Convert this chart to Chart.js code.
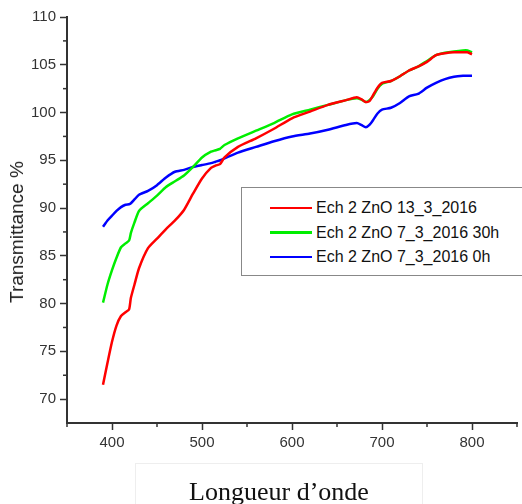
<!DOCTYPE html>
<html>
<head>
<meta charset="utf-8">
<script src="https://cdn.jsdelivr.net/npm/chart.js@4"></script>
<style>
  body { margin: 0; background: #fff; }
  #wrap { position: relative; width: 522px; height: 504px; overflow: hidden; }
  #c { position: absolute; left: 0; top: 0; }
  #ytitle {
    position: absolute; left: 17px; top: 232px;
    transform: translate(-50%, -50%) rotate(-90deg);
    font: 19px "Liberation Sans", Arial, sans-serif; color: #222; white-space: nowrap;
  }
  #legend {
    position: absolute; left: 241px; top: 187px; width: 300px; height: 89px;
    border: 1px solid #888; box-sizing: border-box; background: #fff;
  }
  .row { position: absolute; left: 28px; height: 20px; display: flex; align-items: center;
    font: 16px "Liberation Sans", Arial, sans-serif; color: #111; white-space: nowrap; }
  .row i { display: inline-block; width: 42px; height: 2.5px; margin-right: 4px; }
  #xbox {
    position: absolute; left: 135px; top: 463px; width: 288px; height: 60px;
    border: 1px solid #eee; box-sizing: border-box;
  }
  #xtitle {
    position: absolute; left: 0; width: 100%; top: 13px; text-align: center;
    font: 26px "Liberation Serif", "Times New Roman", serif; color: #111; white-space: nowrap;
  }
</style>
</head>
<body>
<div id="wrap">
  <canvas id="c" width="522" height="504"></canvas>
  <div id="ytitle">Transmittance %</div>
  <div id="xbox"><div id="xtitle">Longueur d’onde</div></div>
  <div id="legend"></div>
</div>
<script>
// longueur d'onde (nm)
const wavelengths = [390, 395, 400, 405, 410, 415, 419, 421, 425, 430, 440, 450, 460, 470, 480, 490, 500,
  510, 515, 520, 525, 540, 560, 580, 600, 620, 640, 660, 672, 677, 682, 686, 690, 695, 700,
  710, 720, 730, 740, 750, 760, 770, 780, 790, 795, 800];

const seriesNames = ['Ech 2 ZnO 13_3_2016', 'Ech 2 ZnO 7_3_2016 30h', 'Ech 2 ZnO 7_3_2016 0h'];
const seriesColors = ['#ff0000', '#00ee00', '#0000ff'];

const red = [71.5, 73.8, 76.0, 77.7, 78.7, 79.1, 79.4, 80.6, 82.0, 83.7, 85.8, 86.8, 87.8, 88.7, 89.8, 91.5, 93.1,
  94.2, 94.45, 94.6, 95.3, 96.4, 97.3, 98.3, 99.4, 100.1, 100.8, 101.3, 101.6, 101.4, 101.1, 101.2, 101.8, 102.6, 103.1,
  103.3, 103.8, 104.4, 104.8, 105.3, 106.0, 106.2, 106.3, 106.3, 106.3, 106.1];

const green = [80.1, 82.0, 83.5, 84.8, 85.9, 86.3, 86.6, 87.4, 88.5, 89.7, 90.5, 91.3, 92.2, 92.8, 93.4, 94.3, 95.3,
  95.9, 96.05, 96.2, 96.6, 97.3, 98.1, 98.9, 99.8, 100.3, 100.8, 101.3, 101.5, 101.35, 101.1, 101.3, 101.7, 102.5, 103.0,
  103.3, 103.8, 104.4, 104.8, 105.4, 106.0, 106.25, 106.4, 106.5, 106.5, 106.3];

const blue = [88.05, 88.7, 89.2, 89.7, 90.1, 90.35, 90.4, 90.5, 90.9, 91.4, 91.8, 92.4, 93.2, 93.8, 94.0, 94.3, 94.5,
  94.7, 94.85, 95.0, 95.2, 95.8, 96.4, 97.0, 97.5, 97.8, 98.2, 98.7, 98.9, 98.7, 98.45, 98.7, 99.2, 99.9, 100.3,
  100.5, 101.0, 101.7, 101.95, 102.6, 103.1, 103.5, 103.75, 103.85, 103.85, 103.85];

// graduations
const xMajorTicks = [400, 500, 600, 700, 800];
const xMinorTicks = [350, 450, 550, 650, 750, 850];
const yMajorTicks = [70, 75, 80, 85, 90, 95, 100, 105, 110];
const yMinorTicks = [72.5, 77.5, 82.5, 87.5, 92.5, 97.5, 102.5, 107.5];

const toPoints = (ys) => ys.map((y, i) => ({ x: wavelengths[i], y }));
const tickFont = { family: '"Liberation Sans Narrow", "Arial Narrow", "Liberation Sans", sans-serif', size: 15 };

// légende html
const legendEl = document.getElementById('legend');
seriesNames.forEach((name, i) => {
  const row = document.createElement('div');
  row.className = 'row';
  row.style.top = (10 + i * 24.5) + 'px';
  row.innerHTML = `<i style="background:${seriesColors[i]}"></i>${name}`;
  legendEl.appendChild(row);
});

// petites graduations
const minorTicks = {
  id: 'minorTicks',
  afterDraw(chart) {
    const { ctx, scales: { x, y } } = chart;
    ctx.save();
    ctx.strokeStyle = '#333';
    ctx.lineWidth = 1.5;
    xMinorTicks.forEach(v => {
      const px = x.getPixelForValue(v);
      ctx.beginPath(); ctx.moveTo(px, x.top); ctx.lineTo(px, x.top + 4); ctx.stroke();
    });
    yMinorTicks.forEach(v => {
      const py = y.getPixelForValue(v);
      ctx.beginPath(); ctx.moveTo(y.right, py); ctx.lineTo(y.right - 4, py); ctx.stroke();
    });
    ctx.restore();
  }
};

new Chart(document.getElementById('c'), {
  type: 'line',
  data: {
    datasets: [red, green, blue].map((ys, i) => ({
      label: seriesNames[i],
      data: toPoints(ys),
      borderColor: seriesColors[i],
      borderWidth: 2.5,
      pointRadius: 0,
      tension: 0.2,
      fill: false
    }))
  },
  options: {
    responsive: false,
    animation: false,
    layout: { padding: { left: 0, top: 17, right: 5, bottom: 0 } },
    plugins: { legend: { display: false }, tooltip: { enabled: false } },
    scales: {
      x: {
        type: 'linear', min: 350, max: 850,
        afterBuildTicks: (s) => { s.ticks = xMajorTicks.map(v => ({ value: v })); },
        afterFit: (s) => { s.height = 81; },
        grid: { drawOnChartArea: false, tickLength: 7, tickColor: '#333', tickWidth: 1.5 },
        border: { color: '#333', width: 2 },
        ticks: { font: tickFont, color: '#333', padding: 4, maxRotation: 0 }
      },
      y: {
        min: 67.5, max: 110,
        afterBuildTicks: (s) => { s.ticks = yMajorTicks.map(v => ({ value: v })); },
        afterFit: (s) => { s.width = 67; },
        grid: { drawOnChartArea: false, tickLength: 7, tickColor: '#333', tickWidth: 1.5 },
        border: { color: '#333', width: 2 },
        ticks: { font: tickFont, color: '#333', padding: 4 }
      }
    }
  },
  plugins: [minorTicks]
});
</script>
</body>
</html>
